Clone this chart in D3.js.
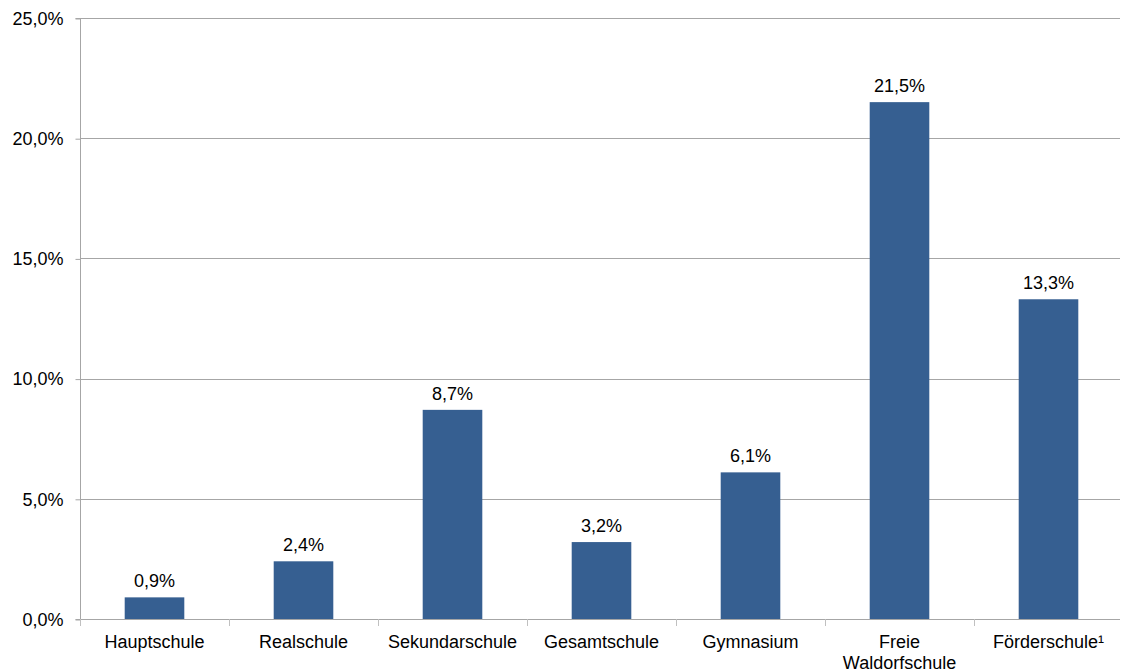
<!DOCTYPE html>
<html>
<head>
<meta charset="utf-8">
<title>Schulformen</title>
<script src="https://cdn.jsdelivr.net/npm/d3@7"></script>
<style>
  body { margin: 0; background: #fff; overflow: hidden; }
  svg { display: block; }
  text { font-family: "Liberation Sans", Arial, sans-serif; fill: #000; }
</style>
</head>
<body>
<svg id="chart" width="1122" height="671"></svg>
<script>
// data
var categories = ['Hauptschule', 'Realschule', 'Sekundarschule', 'Gesamtschule', 'Gymnasium', 'Freie Waldorfschule', 'Förderschule¹'];
var values = [0.9, 2.4, 8.7, 3.2, 6.1, 21.5, 13.3];
var yTicks = [0, 5, 10, 15, 20, 25];

var svg = d3.select('#chart'),
    plotLeft = 80, plotRight = 1123, plotTop = 18, plotBottom = 619,
    fontSize = '18px';

var x = d3.scaleBand().domain(categories).range([plotLeft, plotRight]).paddingInner(0.6).paddingOuter(0.3);
var y = d3.scaleLinear().domain([0, 25]).range([plotBottom, plotTop]);

var fmt = function (v) { return d3.format('.1f')(v).replace('.', ',') + '%'; };

// gridlines
svg.append('g').selectAll('line').data(yTicks.slice(1)).join('line')
    .attr('x1', plotLeft).attr('x2', 1120)
    .attr('y1', function (d) { return Math.round(y(d)) + 0.5; })
    .attr('y2', function (d) { return Math.round(y(d)) + 0.5; })
    .attr('stroke', '#a6a6a6').attr('stroke-width', 1);

// y axis
var yAxis = svg.append('g').attr('transform', 'translate(' + (plotLeft + 0.5) + ',0.5)')
    .call(d3.axisLeft(y).tickValues(yTicks).tickFormat(fmt).tickSize(5).tickPadding(12));
yAxis.selectAll('line, path').attr('stroke', '#a6a6a6');
yAxis.select('.domain').attr('d', 'M-5,' + plotTop + 'H0V' + plotBottom + 'H-5');
yAxis.selectAll('text').style('font-size', fontSize).style('font-family', '"Liberation Sans", Arial, sans-serif').attr('fill', '#000');

// x axis baseline and category ticks
var band = x.step();
svg.append('line').attr('x1', plotLeft).attr('x2', 1120)
    .attr('y1', plotBottom + 0.5).attr('y2', plotBottom + 0.5).attr('stroke', '#a6a6a6');
svg.append('g').selectAll('line').data(d3.range(categories.length + 1)).join('line')
    .attr('x1', function (i) { return Math.round(plotLeft + i * band) + 0.5; })
    .attr('x2', function (i) { return Math.round(plotLeft + i * band) + 0.5; })
    .attr('y1', plotBottom).attr('y2', plotBottom + 7)
    .attr('stroke', '#c0c0c0');

// bars
svg.append('g').selectAll('rect').data(values).join('rect')
    .attr('x', function (d, i) { return x(categories[i]); })
    .attr('y', function (d) { return y(d); })
    .attr('width', x.bandwidth())
    .attr('height', function (d) { return y(0) - y(d); })
    .attr('fill', '#365f91');

// value labels
svg.append('g').selectAll('text').data(values).join('text')
    .attr('x', function (d, i) { return x(categories[i]) + x.bandwidth() / 2; })
    .attr('y', function (d) { return y(d) - 10; })
    .attr('text-anchor', 'middle')
    .style('font-size', fontSize)
    .text(fmt);

// category labels, the long one on two lines
var cat = svg.append('g').selectAll('text').data(categories).join('text')
    .attr('text-anchor', 'middle')
    .style('font-size', fontSize)
    .attr('transform', function (d) { return 'translate(' + (x(d) + x.bandwidth() / 2) + ',' + (plotBottom + 29) + ')'; });
cat.each(function (d) {
    var lines = d === 'Freie Waldorfschule' ? ['Freie', 'Waldorfschule'] : [d];
    d3.select(this).selectAll('tspan').data(lines).join('tspan')
        .attr('x', 0).attr('dy', function (l, i) { return i ? 21 : 0; })
        .text(function (l) { return l; });
});
</script>
</body>
</html>
